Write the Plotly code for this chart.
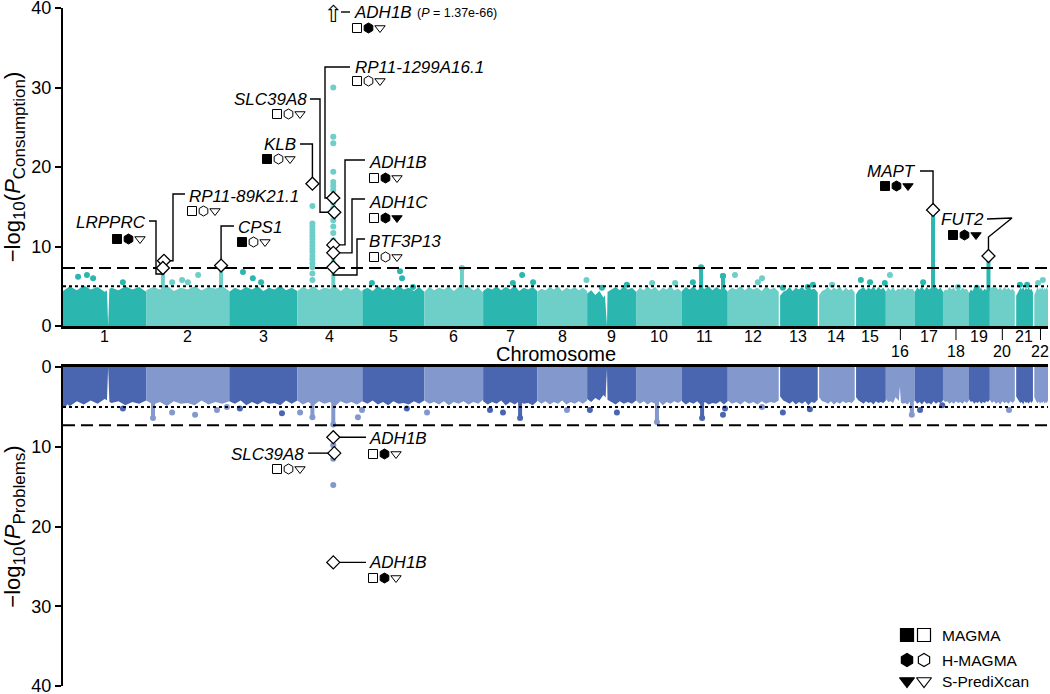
import numpy as np
import plotly.graph_objects as go

# ---------------------------------------------------------------- data
CHROM_NAMES = [str(i) for i in range(1, 23)]
# plotted width of each chromosome (Mb-like units, as laid out in the figure)
CHROM_SIZE = [243, 243, 199, 190, 181, 172, 158, 146, 143, 134, 134, 149,
              114, 108, 91, 85, 82, 76, 61, 73, 53, 44]
ACRO_CHR = [13, 14, 15, 21, 22]        # no data on the short arm
ACRO_OFFSET = 4

# upper edge of the dense SNP cloud, 13 evenly spaced samples per chromosome (-log10 P)
TOP_BAND = [
    [4.4, 5.0, 4.5, 5.1, 4.6, 4.9, 4.3, 4.8, 4.5, 5.0, 4.6, 4.9, 4.3],
    [4.5, 4.9, 4.6, 5.1, 4.4, 4.8, 4.6, 5.0, 4.5, 4.9, 4.7, 5.0, 4.4],
    [4.3, 4.8, 4.5, 4.9, 4.6, 5.0, 4.4, 4.8, 4.6, 5.1, 4.5, 4.8, 4.4],
    [4.4, 4.9, 4.6, 5.0, 4.5, 4.8, 4.7, 5.0, 4.4, 4.9, 4.6, 4.8, 4.3],
    [4.5, 4.8, 4.4, 5.0, 4.6, 4.9, 4.5, 5.1, 4.6, 4.8, 4.4, 4.9, 4.3],
    [4.3, 4.9, 4.5, 4.8, 4.6, 5.0, 4.4, 4.9, 4.7, 5.0, 4.5, 4.8, 4.2],
    [4.4, 4.8, 4.6, 5.0, 4.5, 4.9, 4.6, 5.1, 4.4, 4.8, 4.6, 4.9, 4.4],
    [4.3, 4.7, 4.5, 4.9, 4.6, 5.0, 4.4, 4.8, 4.6, 4.9, 4.5, 4.8, 4.4],
    [4.1, 4.5, 3.9, 4.4, 3.6, 4.3, 4.6, 4.9, 4.5, 5.0, 4.6, 4.8, 4.3],
    [4.3, 4.8, 4.5, 5.0, 4.6, 4.9, 4.4, 4.8, 4.6, 5.0, 4.5, 4.7, 4.3],
    [4.4, 4.9, 4.6, 5.0, 4.5, 4.8, 4.7, 5.0, 4.5, 4.9, 4.6, 4.8, 4.3],
    [4.4, 4.8, 4.6, 5.0, 4.5, 4.9, 4.6, 4.8, 4.4, 5.0, 4.6, 4.8, 4.3],
    [3.8, 4.3, 4.5, 4.9, 4.4, 4.8, 4.6, 4.9, 4.5, 4.8, 4.6, 4.7, 4.2],
    [3.9, 4.4, 4.6, 4.9, 4.5, 4.8, 4.6, 5.0, 4.4, 4.8, 4.5, 4.7, 4.2],
    [4.0, 4.5, 4.7, 4.9, 4.5, 4.8, 4.6, 5.0, 4.5, 4.9, 4.6, 4.8, 4.3],
    [4.3, 4.8, 4.5, 4.9, 4.4, 4.7, 4.6, 4.9, 4.5, 4.8, 4.6, 4.7, 4.3],
    [4.3, 4.8, 4.6, 5.0, 4.5, 4.9, 4.6, 4.8, 4.5, 4.9, 4.6, 4.8, 4.3],
    [4.2, 4.6, 4.5, 4.9, 4.6, 4.8, 4.4, 4.9, 4.5, 4.8, 4.6, 4.7, 4.2],
    [4.1, 4.6, 4.4, 4.8, 4.5, 4.9, 4.6, 4.8, 4.4, 4.7, 4.5, 4.6, 4.2],
    [4.2, 4.7, 4.5, 4.9, 4.6, 4.8, 4.5, 4.9, 4.6, 4.8, 4.5, 4.7, 4.3],
    [3.8, 4.2, 4.5, 4.8, 4.6, 4.9, 4.5, 4.8, 4.6, 4.9, 4.5, 4.7, 4.2],
    [3.9, 4.4, 4.6, 4.9, 4.5, 4.8, 4.6, 5.0, 4.5, 4.8, 4.6, 4.9, 4.5],
]
TOP_GAP_CHR = [1, 9]
TOP_GAP_POS = [132, 58]
TOP_GAP_VAL = [0.0, 0.0]
TOP_GAP_W = [7, 12]

BOT_BAND = [
    [4.4, 4.9, 4.3, 4.7, 4.2, 4.6, 4.0, 4.5, 4.3, 4.8, 4.4, 4.6, 4.2],
    [4.2, 4.7, 4.4, 4.9, 4.3, 4.6, 4.5, 4.8, 4.2, 4.7, 4.4, 4.6, 4.3],
    [4.3, 4.6, 4.2, 4.8, 4.4, 4.7, 4.3, 4.6, 4.5, 4.8, 4.2, 4.6, 4.2],
    [4.2, 4.7, 4.4, 4.8, 4.3, 4.6, 4.4, 4.9, 4.3, 4.6, 4.4, 4.7, 4.3],
    [4.3, 4.6, 4.2, 4.7, 4.4, 4.8, 4.3, 4.6, 4.5, 4.7, 4.3, 4.6, 4.2],
    [4.2, 4.6, 4.4, 4.7, 4.3, 4.8, 4.4, 4.6, 4.3, 4.7, 4.4, 4.6, 4.1],
    [4.3, 4.7, 4.4, 4.6, 4.2, 4.8, 4.4, 4.7, 4.3, 4.6, 4.5, 4.8, 4.3],
    [4.2, 4.6, 4.3, 4.7, 4.4, 4.6, 4.2, 4.7, 4.4, 4.6, 4.3, 4.6, 4.2],
    [4.0, 4.4, 3.9, 4.2, 3.5, 4.1, 4.4, 4.7, 4.3, 4.6, 4.4, 4.6, 4.2],
    [4.2, 4.6, 4.3, 4.7, 4.4, 4.6, 4.3, 4.8, 4.4, 4.6, 4.3, 4.5, 4.2],
    [4.3, 4.7, 4.4, 4.6, 4.3, 4.8, 4.4, 4.7, 4.5, 4.6, 4.3, 4.7, 4.3],
    [4.2, 4.6, 4.4, 4.7, 4.3, 4.6, 4.4, 4.7, 4.3, 4.6, 4.4, 4.5, 4.2],
    [3.7, 4.2, 4.4, 4.6, 4.3, 4.7, 4.4, 4.6, 4.3, 4.8, 4.4, 4.5, 4.1],
    [3.8, 4.3, 4.4, 4.6, 4.3, 4.7, 4.4, 4.6, 4.3, 4.5, 4.4, 4.5, 4.1],
    [3.8, 4.2, 4.4, 4.6, 4.3, 4.5, 4.4, 4.7, 4.3, 4.5, 4.4, 4.5, 4.2],
    [4.0, 4.4, 4.3, 4.5, 3.8, 4.2, 4.4, 4.6, 4.5, 4.7, 4.3, 4.5, 4.2],
    [4.2, 4.6, 4.4, 4.7, 4.3, 4.6, 4.5, 4.7, 4.3, 4.6, 4.4, 4.5, 4.2],
    [4.1, 4.4, 4.3, 4.6, 4.4, 4.6, 4.3, 4.5, 4.4, 4.6, 4.3, 4.5, 4.2],
    [4.0, 4.4, 4.3, 4.6, 4.4, 4.5, 4.3, 4.6, 4.4, 4.5, 4.3, 4.4, 4.1],
    [4.1, 4.5, 4.3, 4.6, 4.4, 4.7, 4.3, 4.5, 4.4, 4.6, 4.3, 4.5, 4.2],
    [3.7, 4.1, 4.3, 4.5, 4.4, 4.7, 4.3, 4.5, 4.4, 4.6, 4.3, 4.5, 4.2],
    [3.8, 4.2, 4.4, 4.5, 4.3, 4.6, 4.4, 4.5, 4.3, 4.6, 4.4, 4.5, 4.2],
]
BOT_GAP_CHR = [1, 9, 16]
BOT_GAP_POS = [132, 58, 41]
BOT_GAP_VAL = [0.0, 0.2, 2.4]
BOT_GAP_W = [7, 8, 6]

# isolated SNPs rising above the cloud (Consumption)
TOP_DOT_CHR = [1, 1, 1, 1, 2, 2, 2, 2, 3, 3, 3, 5, 5, 5, 5, 7, 7, 7, 8, 9, 9, 10, 10,
               11, 11, 12, 12, 12, 13, 13, 13, 14, 15, 15, 15, 16, 17, 18, 19, 20, 21, 21, 22, 22]
TOP_DOT_POS = [44, 70, 88, 175, 76, 105, 122, 152, 40, 69, 93, 28, 110, 116, 148, 87, 114, 146, 144, 43, 116, 47, 114,
               32, 120, 21, 88, 100, 12, 85, 100, 42, 18, 45, 88, 12, 24, 44, 23, 9, 15, 36, 15, 29]
TOP_DOT_VAL = [6.2, 6.4, 6.0, 5.5, 5.5, 5.8, 5.5, 6.4, 6.8, 6.0, 5.5, 5.4, 6.9, 6.0, 4.9, 5.4, 6.4, 5.5, 5.8, 4.8, 5.2, 5.4, 5.4,
               5.5, 6.3, 6.4, 5.5, 6.0, 4.8, 4.9, 5.2, 5.2, 5.8, 5.5, 5.4, 6.4, 5.5, 4.9, 4.8, 4.5, 5.2, 5.2, 5.4, 5.8]
# stacks of significant SNPs on chromosome 4
TOP_ADH_POS = 105
TOP_ADH_STACK = [11.7, 12.5, 13.3, 14.0, 14.8, 15.5, 16.3, 17.1, 17.6, 18.1, 19.4, 23.0, 23.8, 30.0]
TOP_KLB_POS = 44
TOP_KLB_STACK = [5.8, 6.6, 7.4, 7.9, 8.4, 8.8, 9.3, 9.7, 10.1, 10.5, 10.9, 11.3, 11.7, 12.1, 12.5, 12.9, 15.1]
# dense columns of SNPs (drawn as solid towers up to this height)
TOP_COL_CHR = [2, 2, 4, 6, 11, 11, 17, 19]
TOP_COL_POS = [49, 219, 105, 110, 56, 120, 53, 57]
TOP_COL_VAL = [7.0, 7.5, 10.8, 7.3, 7.4, 6.3, 14.5, 8.7]

# isolated SNPs (Problems)
BOT_DOT_CHR = [1, 1, 2, 2, 2, 2, 3, 3, 4, 4, 4, 5, 6, 7, 7, 8, 9, 9, 11, 11, 12, 13, 13, 17, 17, 20]
BOT_DOT_POS = [3, 175, 76, 143, 207, 236, 31, 154, 8, 177, 189, 130, 8, 20, 58, 87, 8, 87, 120, 126, 100, 12, 91, 15, 80, 56]
BOT_DOT_VAL = [4.6, 5.2, 5.7, 6.0, 5.4, 5.0, 5.2, 5.8, 5.7, 6.3, 5.4, 5.2, 5.7, 5.4, 5.7, 5.4, 5.4, 5.7, 6.0, 5.2, 5.0, 5.7, 5.3, 5.4, 4.8, 5.4]
BOT_ADH_POS = 105
BOT_ADH_STACK = [9.8, 11.5, 14.8]
BOT_COL_CHR = [2, 4, 4, 7, 10, 11, 16]
BOT_COL_POS = [20, 44, 105, 108, 61, 59, 76]
BOT_COL_VAL = [6.4, 6.3, 7.2, 6.4, 6.9, 6.4, 6.0]

# annotated genes
TOP_GENE = ["ADH1B", "RP11-1299A16.1", "SLC39A8", "KLB", "RP11-89K21.1", "LRPPRC",
            "CPS1", "ADH1B", "ADH1C", "BTF3P13", "MAPT", "FUT2"]
TOP_GENE_CHR = [4, 4, 4, 4, 2, 2, 2, 4, 4, 4, 17, 19]
TOP_GENE_POS = [105, 105, 108, 44, 52, 49, 219, 105, 105, 105, 53, 57]
TOP_GENE_VAL = [65.86, 16.1, 14.3, 17.9, 8.2, 7.3, 7.6, 10.2, 9.2, 7.4, 14.6, 8.8]
TOP_MAGMA = [0, 0, 0, 1, 0, 1, 1, 0, 0, 0, 1, 1]
TOP_HMAGMA = [1, 0, 0, 0, 0, 1, 0, 1, 1, 0, 1, 1]
TOP_SPX = [0, 0, 0, 0, 0, 0, 0, 0, 1, 0, 1, 1]
TOP_P_NOTE = "1.37e-66"

BOT_GENE = ["ADH1B", "SLC39A8", "ADH1B"]
BOT_GENE_CHR = [4, 4, 4]
BOT_GENE_POS = [105, 108, 105]
BOT_GENE_VAL = [8.8, 10.8, 24.5]
BOT_MAGMA = [0, 0, 0]
BOT_HMAGMA = [1, 0, 1]
BOT_SPX = [0, 0, 0]

GWS_LINE = 7.3     # -log10(5e-8)
SUG_LINE = 5.0     # -log10(1e-5)
Y_MAX = 40
Y_CAP = 39.0       # off-scale values are drawn as an arrow here

LEGEND_NAMES = ["MAGMA", "H-MAGMA", "S-PrediXcan"]
LOWER_ROW_CHR = [16, 18, 20, 22]

# ---------------------------------------------------------------- layout geometry (pixels)
W, H = 1050, 694
X0, X1 = 63, 1048
TOP_PX = (8, 326)       # y=40 , y=0
BOT_PX = (367, 686)     # y=0 , y=40
XMAX = float(sum(CHROM_SIZE))

def xd(px):
    return (px - X0) * XMAX / (X1 - X0)

def yt(py):
    return (TOP_PX[1] - py) * Y_MAX / (TOP_PX[1] - TOP_PX[0])

def yb(py):
    return (py - BOT_PX[0]) * Y_MAX / (BOT_PX[1] - BOT_PX[0])

def yp(py):
    return (H - 8 - py) / (H - 16)

TEAL = ("#2bb7af", "#6dcfc8")
BLUE = ("#4a66b0", "#8398cc")
FONT = "Liberation Sans, Arial, Helvetica, sans-serif"

STARTS = np.concatenate([[0], np.cumsum(CHROM_SIZE)[:-1]])
def gx(c, p):
    return STARTS[c - 1] + p

def col(c, pal):
    return pal[0] if c % 2 == 1 else pal[1]

fig = go.Figure()

# ---------------------------------------------------------------- SNP cloud
def add_band(band, gchr, gpos, gval, gw, pal, xa, ya):
    for i, L in enumerate(CHROM_SIZE):
        c = i + 1
        s0 = ACRO_OFFSET if c in ACRO_CHR else 0
        xs = list(np.linspace(s0, L, len(band[i])))
        hs = list(band[i])
        for gc, gp, gv, w in zip(gchr, gpos, gval, gw):
            if gc == c:
                hl = float(np.interp(gp - w / 2, xs, hs))
                hr = float(np.interp(gp + w / 2, xs, hs))
                xs += [gp - w / 2, gp, gp + w / 2]
                hs += [hl, gv, hr]
        order = np.argsort(xs, kind="stable")
        xs = np.array(xs)[order] + STARTS[i]
        hs = np.array(hs)[order]
        fig.add_trace(go.Scatter(x=xs, y=hs, mode="lines", fill="tozeroy",
                                 line=dict(width=0, color=col(c, pal)),
                                 fillcolor=col(c, pal), hoverinfo="skip",
                                 xaxis=xa, yaxis=ya))

add_band(TOP_BAND, TOP_GAP_CHR, TOP_GAP_POS, TOP_GAP_VAL, TOP_GAP_W, TEAL, "x", "y")
add_band(BOT_BAND, BOT_GAP_CHR, BOT_GAP_POS, BOT_GAP_VAL, BOT_GAP_W, BLUE, "x2", "y2")

# ---------------------------------------------------------------- towers
def add_cols(cchr, cpos, cval, base, pal, xa, ya):
    for k in (0, 1):
        xs, ys = [], []
        for c, p, v in zip(cchr, cpos, cval):
            if (c % 2 == 1) == (k == 0):
                xs += [gx(c, p), gx(c, p), None]
                ys += [base, v, None]
        fig.add_trace(go.Scatter(x=xs, y=ys, mode="lines", line=dict(width=4, color=pal[k]),
                                 hoverinfo="skip", xaxis=xa, yaxis=ya))

add_cols(TOP_COL_CHR, TOP_COL_POS, TOP_COL_VAL, 4.3, TEAL, "x", "y")
add_cols(BOT_COL_CHR, BOT_COL_POS, BOT_COL_VAL, 4.2, BLUE, "x2", "y2")

# ---------------------------------------------------------------- dots
def add_dots(dchr, dpos, dval, pal, xa, ya):
    for k in (0, 1):
        sel = [(c, p, v) for c, p, v in zip(dchr, dpos, dval) if (c % 2 == 1) == (k == 0)]
        if not sel:
            continue
        fig.add_trace(go.Scatter(x=[gx(c, p) for c, p, v in sel], y=[v for c, p, v in sel],
                                 mode="markers", marker=dict(size=6, color=pal[k]),
                                 hoverinfo="skip", xaxis=xa, yaxis=ya))

top_chr = TOP_DOT_CHR + TOP_COL_CHR + [4] * len(TOP_ADH_STACK) + [4] * len(TOP_KLB_STACK)
top_pos = TOP_DOT_POS + TOP_COL_POS + [TOP_ADH_POS] * len(TOP_ADH_STACK) + [TOP_KLB_POS] * len(TOP_KLB_STACK)
top_val = TOP_DOT_VAL + TOP_COL_VAL + TOP_ADH_STACK + TOP_KLB_STACK
add_dots(top_chr, top_pos, top_val, TEAL, "x", "y")

bot_chr = BOT_DOT_CHR + BOT_COL_CHR + [4] * len(BOT_ADH_STACK)
bot_pos = BOT_DOT_POS + BOT_COL_POS + [BOT_ADH_POS] * len(BOT_ADH_STACK)
bot_val = BOT_DOT_VAL + BOT_COL_VAL + BOT_ADH_STACK
add_dots(bot_chr, bot_pos, bot_val, BLUE, "x2", "y2")

# ---------------------------------------------------------------- significance lines
for xa, ya in (("x", "y"), ("x2", "y2")):
    fig.add_trace(go.Scatter(x=[0, XMAX], y=[GWS_LINE, GWS_LINE], mode="lines",
                             line=dict(color="black", width=2, dash="12px,6px"),
                             hoverinfo="skip", xaxis=xa, yaxis=ya))
    fig.add_trace(go.Scatter(x=[0, XMAX], y=[SUG_LINE, SUG_LINE], mode="lines",
                             line=dict(color="black", width=2, dash="3px,3px"),
                             hoverinfo="skip", xaxis=xa, yaxis=ya))

# ---------------------------------------------------------------- labels, connectors, symbols
TOP_LABEL_XY = [(352, 12, "left"), (353, 67, "left"), (309, 99, "right"), (298, 144, "right"),
                (187, 196, "left"), (148, 222, "right"), (236, 227, "left"), (367, 162, "left"),
                (367, 202, "left"), (367, 241, "left"), (918, 171, "right"), (986, 219, "right")]
TOP_SYM_XY = [(357, 28), (357, 81), (277, 114), (267, 159), (192, 211), (117, 239), (242, 242),
              (374, 178), (374, 218), (374, 257), (885, 186), (953, 235)]
TOP_PATH = [
    [(341, 12), (350, 12)],
    [(350, 67), (325, 67), (325, "D")],
    [(310, 99), (320, 99), (320, "D")],
    [(300, 144), ("D", 144)],
    [(185, 194), (173, 194), (173, "D")],
    [(149, 221), (156, 221), (156, 274), ("D", 274)],
    [(234, 226), ("D", 226)],
    [(365, 160), (345, 160), (345, "D")],
    [(365, 199), (352, 199), (352, "D")],
    [(365, 239), (357, 239), (357, 275), ("D", 275)],
    [(920, 171), ("D", 171)],
    [(987, 219), (1012, 218), ("D", 237)],
]
BOT_LABEL_XY = [(367, 438, "left"), (306, 454, "right"), (367, 562, "left")]
BOT_SYM_XY = [(373, 454), (277, 469), (373, 578)]
BOT_PATH = [[(366, "D")], [(308, "D")], [(366, "D")]]

annotations = []
shapes = []

def add_genes(names, gchr, gpos, gval, magma, hmagma, spx, labels, syms, paths,
              yconv, xa, ya, capped_first):
    dx = [gx(c, p) for c, p in zip(gchr, gpos)]
    dy = [min(v, Y_CAP) for v in gval]
    # connectors
    lx, ly = [], []
    for i, path in enumerate(paths):
        for (px, py) in path:
            lx.append(dx[i] if px == "D" else xd(px))
            ly.append(dy[i] if py == "D" else yconv(py))
        if not (capped_first and i == 0):
            lx.append(dx[i]); ly.append(dy[i])
        lx.append(None); ly.append(None)
    fig.add_trace(go.Scatter(x=lx, y=ly, mode="lines", line=dict(color="black", width=1.4),
                             hoverinfo="skip", xaxis=xa, yaxis=ya))
    # diamonds / off-scale arrow
    idx = list(range(1, len(names))) if capped_first else list(range(len(names)))
    fig.add_trace(go.Scatter(x=[dx[i] for i in idx], y=[dy[i] for i in idx], mode="markers",
                             marker=dict(symbol="diamond", size=10, color="white",
                                         line=dict(color="black", width=1.3)),
                             hoverinfo="skip", cliponaxis=False, xaxis=xa, yaxis=ya))
    if capped_first:
        fig.add_trace(go.Scatter(x=[dx[0]], y=[dy[0]], mode="text", text=["\u21e7"],
                                 textposition="middle center",
                                 textfont=dict(size=23, family="DejaVu Sans", color="black"),
                                 hoverinfo="skip", cliponaxis=False, xaxis=xa, yaxis=ya))
    # gene names
    for i, name in enumerate(names):
        px, py, anc = labels[i]
        annotations.append(dict(x=xd(px), y=yconv(py), xref=xa, yref=ya, text=f"<i>{name}</i>",
                                showarrow=False, xanchor=anc, yanchor="middle",
                                font=dict(size=17, family=FONT, color="black")))
    # method symbols
    kinds = [("square", magma), ("hexagon", hmagma), ("triangle-down", spx)]
    for k, (sym, flags) in enumerate(kinds):
        for filled in (1, 0):
            xs = [xd(syms[i][0] + 11.5 * k) for i in range(len(names)) if flags[i] == filled]
            ys = [yconv(syms[i][1]) for i in range(len(names)) if flags[i] == filled]
            if not xs:
                continue
            fig.add_trace(go.Scatter(
                x=xs, y=ys, mode="markers", hoverinfo="skip", cliponaxis=False,
                marker=dict(symbol=sym if filled else sym + "-open", size=9 if sym != "hexagon" else 10,
                            color="black", line=dict(color="black", width=1)),
                xaxis=xa, yaxis=ya))

add_genes(TOP_GENE, TOP_GENE_CHR, TOP_GENE_POS, TOP_GENE_VAL, TOP_MAGMA, TOP_HMAGMA, TOP_SPX,
          TOP_LABEL_XY, TOP_SYM_XY, TOP_PATH, yt, "x", "y", True)
add_genes(BOT_GENE, BOT_GENE_CHR, BOT_GENE_POS, BOT_GENE_VAL, BOT_MAGMA, BOT_HMAGMA, BOT_SPX,
          BOT_LABEL_XY, BOT_SYM_XY, BOT_PATH, yb, "x2", "y2", False)

annotations.append(dict(x=xd(415), y=yt(13), xref="x", yref="y",
                        text=f"(<i>P</i> = {TOP_P_NOTE})", showarrow=False,
                        xanchor="left", yanchor="middle", font=dict(size=12.5, family=FONT)))

# ---------------------------------------------------------------- legend (bottom right)
LEG_Y = [635, 660, 681]
leg_syms = ["square", "hexagon", "triangle-down"]
for k, name in enumerate(LEGEND_NAMES):
    fig.add_trace(go.Scatter(x=[xd(907), xd(924)], y=[yb(LEG_Y[k])] * 2, mode="markers",
                             marker=dict(symbol=[leg_syms[k], leg_syms[k] + "-open"], size=13,
                                         color="black", line=dict(color="black", width=1.2)),
                             hoverinfo="skip", cliponaxis=False, xaxis="x2", yaxis="y2"))
    annotations.append(dict(x=xd(940), y=yb(LEG_Y[k]), xref="x2", yref="y2", text=name,
                            showarrow=False, xanchor="left", yanchor="middle",
                            font=dict(size=15.5, family=FONT)))

# ---------------------------------------------------------------- chromosome axis labels
for i, name in enumerate(CHROM_NAMES):
    c = i + 1
    mid = STARTS[i] + CHROM_SIZE[i] / 2
    lower = c in LOWER_ROW_CHR
    annotations.append(dict(x=mid, y=yp(351 if lower else 336), xref="x", yref="paper", text=name,
                            showarrow=False, xanchor="center", yanchor="middle",
                            font=dict(size=16, family=FONT)))
    if lower:
        shapes.append(dict(type="line", x0=mid, x1=mid, y0=yp(327), y1=yp(340), xref="x",
                           yref="paper", line=dict(color="black", width=1)))
annotations.append(dict(x=0.5, y=yp(354), xref="paper", yref="paper", text="Chromosome",
                        showarrow=False, xanchor="center", yanchor="middle",
                        font=dict(size=20, family=FONT)))

# ---------------------------------------------------------------- axes
top_dom = [yp(TOP_PX[1]), 1.0]
bot_dom = [0.0, yp(BOT_PX[0])]
SUBFMT = '<sub><span style="font-size:17px">{}</span></sub>'
yax_common = dict(tickvals=[0, 10, 20, 30, 40], ticks="outside", ticklen=6, tickwidth=2,
                  tickcolor="black", showline=True, linewidth=2, linecolor="black",
                  showgrid=False, zeroline=False, tickfont=dict(size=18, family=FONT),
                  ticklabeloverflow="allow", automargin=False)
xax_common = dict(range=[0, XMAX], showticklabels=False, ticks="", showgrid=False,
                  zeroline=False, showline=True, linecolor="black", linewidth=2.5, domain=[0, 1],
                  automargin=False)

fig.update_layout(
    template="none",
    width=W, height=H, margin=dict(l=X0, r=W - X1, t=8, b=8, autoexpand=False),
    paper_bgcolor="white", plot_bgcolor="white", showlegend=False,
    font=dict(family=FONT, color="black"),
    xaxis=dict(anchor="y", **xax_common),
    xaxis2=dict(anchor="y2", side="top", **xax_common),
    yaxis=dict(domain=top_dom, range=[0, Y_MAX], anchor="x",
               title=dict(text="\u2212log" + SUBFMT.format("10") + "(<i>P</i>" + SUBFMT.format("Consumption") + ")",
                          font=dict(size=22, family=FONT), standoff=8),
               **yax_common),
    yaxis2=dict(domain=bot_dom, range=[Y_MAX, 0], anchor="x2",
                title=dict(text="\u2212log" + SUBFMT.format("10") + "(<i>P</i>" + SUBFMT.format("Problems") + ")",
                           font=dict(size=22, family=FONT), standoff=8),
                **yax_common),
    annotations=annotations,
    shapes=shapes,
)

# the page is shown edge to edge, so drop the browser's default body margin
fig.write_html("out.html", config={"displayModeBar": False},
               post_script="document.body.style.margin='0';")
